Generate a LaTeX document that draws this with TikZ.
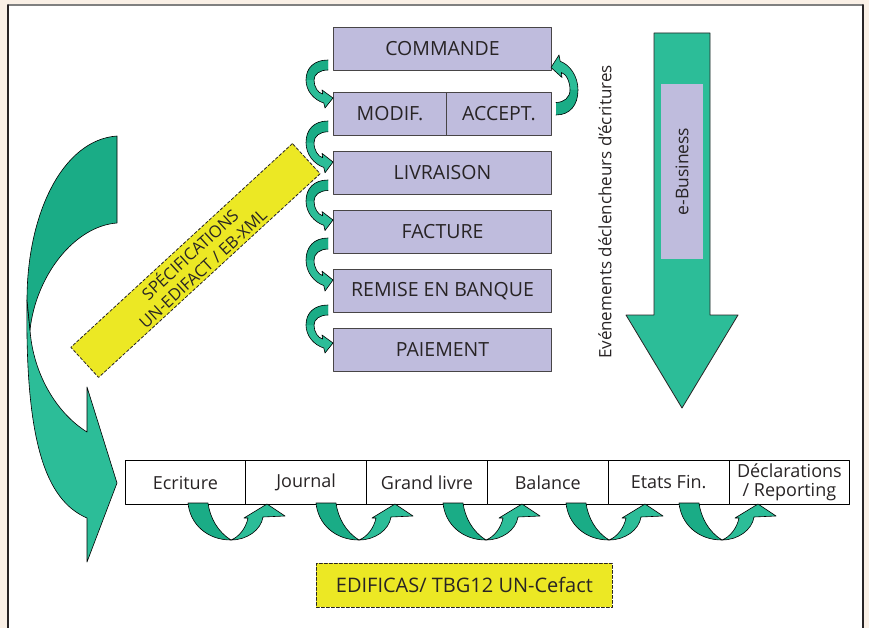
\documentclass[tikz,border=0pt]{standalone}
\usepackage{fontspec}
\setmainfont{Open Sans}
\definecolor{pagebg}{RGB}{250,240,230}
\definecolor{lavender}{RGB}{191,188,221}
\definecolor{tealdark}{RGB}{26,172,134}
\definecolor{teallight}{RGB}{44,189,152}
\definecolor{bandyellow}{RGB}{236,232,36}
\definecolor{inkgray}{RGB}{40,36,37}

\begin{document}
\begin{tikzpicture}[x=1pt, y=-1pt, line cap=round, line join=round,
	stepbox/.style={draw=inkgray!85, line width=1pt, fill=lavender, minimum height=43pt, inner sep=0pt, text=inkgray, font=\fontsize{19.5}{21}\selectfont},
	ledger/.style={draw=black, line width=1pt, fill=white, minimum width=120.8pt, minimum height=44pt, inner sep=0pt, align=center, text=inkgray, font=\fontsize{18}{18.5}\selectfont},
	tag/.style={draw=inkgray, line width=0.8pt, dash pattern=on 3pt off 2pt, fill=bandyellow, inner sep=0pt, align=center, text=inkgray},
	ribbon/.style={draw=black, line width=0.6pt}]
		
		% Page and frame
		\useasboundingbox (0,0) rectangle (869,628);
		\fill[pagebg] (0,0) rectangle (869,628);
		\fill[white] (8,5) rectangle (863,628);
		\draw[gray, line width=1.5pt] (8,5) -- (863,5);
		\draw[inkgray, line width=1.5pt] (8,5) -- (8,628);
		\draw[inkgray, line width=1.5pt] (863,5) -- (863,628);
		
		% Big curved arrow on the left
		\draw[ribbon, fill=teallight] (27,300) .. controls (25,440) and (45,500) .. (87,518)
		-- (87,562) -- (117,483) -- (87,387) -- (87,432)
		.. controls (55,412) and (33,372) .. (30,330) -- cycle;
		\draw[ribbon, fill=tealdark] (117,136) .. controls (62,140) and (27,215) .. (27,300)
		-- (30,330) .. controls (36,275) and (75,226) .. (117,223) -- cycle;
		
		% Yellow band of specifications
		\node[tag, rotate=42.6, minimum width=301pt, minimum height=41pt, font=\fontsize{16.5}{19}\selectfont] (spec) at (195.5,260.5) {SPÉCIFICATIONS\\UN-EDIFACT / EB-XML};
		
		% Trigger events
		\node[stepbox, minimum width=218pt, anchor=north west] (cmd) at (333,27) {COMMANDE};
		\node[stepbox, minimum width=113pt, anchor=north west] (modif) at (333,92) {MODIF.};
		\node[stepbox, minimum width=105pt, anchor=north west] (accept) at (446,92) {ACCEPT.};
		\node[stepbox, minimum width=218pt, anchor=north west] (livr) at (333,151) {LIVRAISON};
		\node[stepbox, minimum width=218pt, anchor=north west] (fact) at (333,210) {FACTURE};
		\node[stepbox, minimum width=218pt, anchor=north west] (remise) at (333,269) {REMISE EN BANQUE};
		\node[stepbox, minimum width=218pt, anchor=north west] (paie) at (333,328) {PAIEMENT};
		
		% Small curved arrows down the left side of the events
		\foreach \t/\h in {60/38, 121/41, 180/40, 238/42, 305/38} {
			\begin{scope}[shift={(328,\t)}, yscale=\h/38]
				\fill[teallight] (0,0) .. controls (-14,0) and (-22,8) .. (-22,20)
				.. controls (-22,31) and (-14,40) .. (-4.2,43) -- (-3,48) -- (5,38) -- (-6,30) -- (-5.3,34)
				.. controls (-10,33) and (-14,27) .. (-14,20) .. controls (-14,14) and (-8,10) .. (0,10) -- cycle;
				\fill[tealdark] (0,0) .. controls (-14,0) and (-22,8) .. (-22,20) -- (-14,20)
				.. controls (-14,14) and (-8,10) .. (0,10) -- cycle;
				\draw[ribbon] (0,0) .. controls (-14,0) and (-22,8) .. (-22,20)
				.. controls (-22,31) and (-14,40) .. (-4.2,43) -- (-3,48) -- (5,38) -- (-6,30) -- (-5.3,34)
				.. controls (-10,33) and (-14,27) .. (-14,20) .. controls (-14,14) and (-8,10) .. (0,10);
			\end{scope}
		}
		
		% Back arrow from ACCEPT. to COMMANDE
		\begin{scope}[shift={(556,115)}, xscale=-1, yscale=-1.25]
			\fill[teallight] (0,0) .. controls (-14,0) and (-22,8) .. (-22,20)
			.. controls (-22,31) and (-14,40) .. (-4.2,43) -- (-3,48) -- (5,38) -- (-6,30) -- (-5.3,34)
			.. controls (-10,33) and (-14,27) .. (-14,20) .. controls (-14,14) and (-8,10) .. (0,10) -- cycle;
			\fill[tealdark] (0,0) .. controls (-14,0) and (-22,8) .. (-22,20) -- (-14,20)
			.. controls (-14,14) and (-8,10) .. (0,10) -- cycle;
			\draw[ribbon] (0,0) .. controls (-14,0) and (-22,8) .. (-22,20)
			.. controls (-22,31) and (-14,40) .. (-4.2,43) -- (-3,48) -- (5,38) -- (-6,30) -- (-5.3,34)
			.. controls (-10,33) and (-14,27) .. (-14,20) .. controls (-14,14) and (-8,10) .. (0,10);
		\end{scope}
		
		% Vertical caption
		\node[rotate=90, text=inkgray, font=\fontsize{17}{18}\selectfont] (evts) at (605,212) {Evénements déclencheurs d’écritures};
		
		% Big e-Business arrow
		\draw[line width=0.8pt, draw=inkgray, fill=teallight] (654,33) -- (710,33) -- (710,315) -- (738,315)
		-- (682,408) -- (626,315) -- (654,315) -- cycle;
		\node[rotate=90, fill=lavender, minimum width=175pt, minimum height=42pt, inner sep=0pt, text=inkgray, font=\fontsize{17.5}{19}\selectfont] (ebiz) at (682,171.5) {e-Business};
		
		% Accounting chain
		\foreach \name/\txt [count=\i from 0] in {ecr/Ecriture, jour/Journal, gdl/Grand livre, bal/Balance, etats/Etats Fin., decl/{Déclarations\\/ Reporting}}
		\node[ledger, anchor=north west] (\name) at (124.5+120.8*\i,460) {\txt};
		
		% Arrows under the chain
		\foreach \bx in {231, 359, 486, 609, 722} {
			\begin{scope}[shift={(\bx,540)}]
				\draw[ribbon, fill=tealdark] (-43,-37) .. controls (-41,-16) and (-24,0) .. (0,0)
				.. controls (-13,-8) and (-21,-22) .. (-23,-37) -- cycle;
				\draw[ribbon, fill=teallight] (0,0) .. controls (16,0) and (30,-10) .. (32,-23)
				-- (54,-24) -- (36,-36) -- (13,-22) -- (17,-22)
				.. controls (15,-12) and (8,-3) .. (0,0) -- cycle;
			\end{scope}
		}
		
		% Standard body
		\node[tag, minimum width=296pt, minimum height=44pt, anchor=north west, font=\fontsize{20}{22}\selectfont] (edif) at (316,563) {EDIFICAS/ TBG12 UN-Cefact};
		
	\end{tikzpicture}
\end{document}
